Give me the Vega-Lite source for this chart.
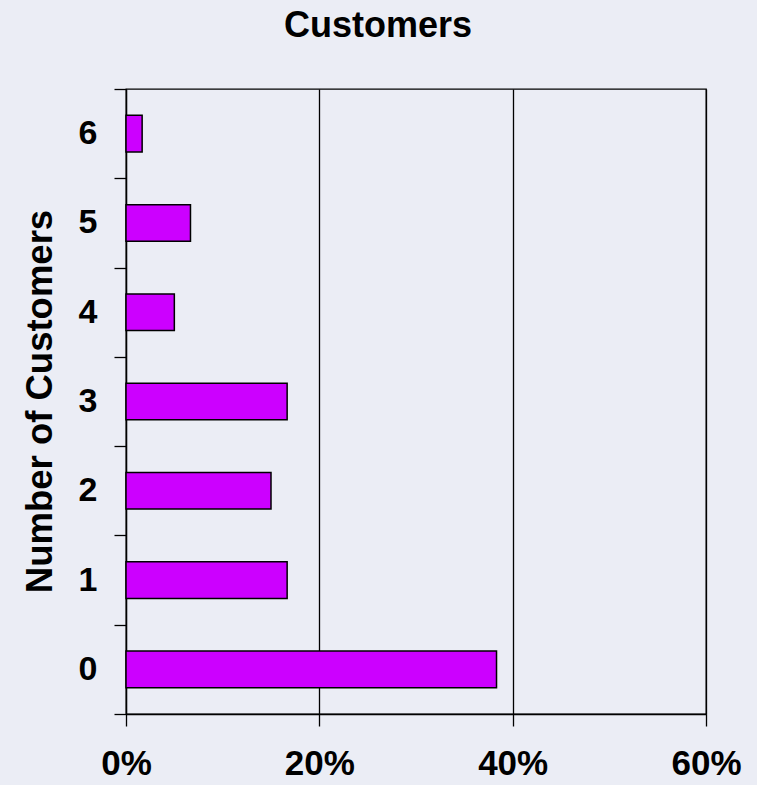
{
  "$schema": "https://vega.github.io/schema/vega-lite/v6.json",
  "width": 580,
  "height": 625,
  "autosize": "none",
  "padding": {"left": 126, "top": 89, "right": 51, "bottom": 71},
  "background": "#ebedf5",
  "title": {
    "text": "Customers",
    "font": "Liberation Sans",
    "fontSize": 36,
    "fontWeight": "bold",
    "color": "black",
    "anchor": "middle",
    "dx": -38,
    "offset": 27
  },
  "config": {
    "view": {"stroke": "black", "strokeWidth": 1.3},
    "axis": {
      "labelFont": "Liberation Sans",
      "labelFontWeight": "bold",
      "labelColor": "black",
      "titleFont": "Liberation Sans",
      "titleFontWeight": "bold",
      "titleColor": "black",
      "domainColor": "black",
      "tickColor": "black",
      "domainWidth": 1.3,
      "tickWidth": 1.3
    }
  },
  "data": {
    "values": [
      {"customers": "0", "share": 0.3833},
      {"customers": "1", "share": 0.1667},
      {"customers": "2", "share": 0.15},
      {"customers": "3", "share": 0.1667},
      {"customers": "4", "share": 0.05},
      {"customers": "5", "share": 0.0667},
      {"customers": "6", "share": 0.0167}
    ]
  },
  "mark": {
    "type": "bar",
    "fill": "#cc00ff",
    "stroke": "black",
    "strokeWidth": 1.5,
    "height": {"band": 0.41}
  },
  "encoding": {
    "y": {
      "field": "customers",
      "type": "ordinal",
      "sort": "descending",
      "scale": {"paddingInner": 0, "paddingOuter": 0},
      "axis": {
        "title": "Number of Customers",
        "titleFontSize": 36.5,
        "titleAngle": -90,
        "titleX": -86,
        "titleY": 312,
        "titleBaseline": "middle",
        "titleAlign": "center",
        "labelFontSize": 34,
        "labelAngle": 0,
        "labelPadding": 17,
        "tickBand": "extent",
        "tickSize": 12,
        "grid": false
      }
    },
    "x": {
      "field": "share",
      "type": "quantitative",
      "scale": {"domain": [0, 0.6], "nice": false},
      "axis": {
        "title": null,
        "format": ".0%",
        "values": [0, 0.2, 0.4, 0.6],
        "labelFontSize": 35,
        "labelFlush": false,
        "labelOverlap": false,
        "labelPadding": 20,
        "tickSize": 12,
        "grid": true,
        "gridColor": "black",
        "gridWidth": 1.3,
        "gridOpacity": 1
      }
    }
  }
}
